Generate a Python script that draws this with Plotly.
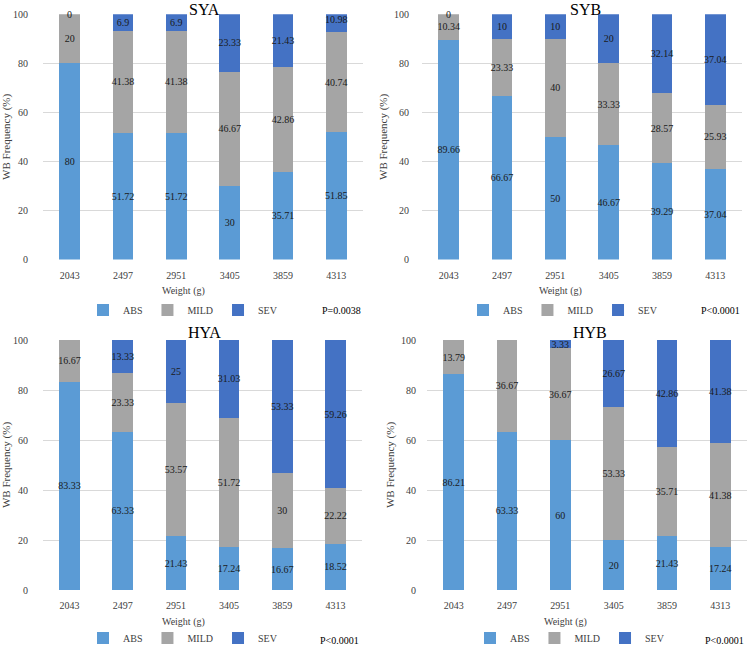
import plotly.graph_objects as go

# ---------------- data ----------------
weights = ["2043", "2497", "2951", "3405", "3859", "4313"]
series_names = ["ABS", "MILD", "SEV"]
y_ticks = [0, 20, 40, 60, 80, 100]

sya_abs = [80, 51.72, 51.72, 30, 35.71, 51.85]
sya_mild = [20, 41.38, 41.38, 46.67, 42.86, 40.74]
sya_sev = [0, 6.9, 6.9, 23.33, 21.43, 10.98]

syb_abs = [89.66, 66.67, 50, 46.67, 39.29, 37.04]
syb_mild = [10.34, 23.33, 40, 33.33, 28.57, 25.93]
syb_sev = [0, 10, 10, 20, 32.14, 37.04]

hya_abs = [83.33, 63.33, 21.43, 17.24, 16.67, 18.52]
hya_mild = [16.67, 23.33, 53.57, 51.72, 30, 22.22]
hya_sev = [0, 13.33, 25, 31.03, 53.33, 59.26]

hyb_abs = [86.21, 63.33, 60, 20, 21.43, 17.24]
hyb_mild = [13.79, 36.67, 36.67, 53.33, 35.71, 41.38]
hyb_sev = [0, 0, 3.33, 26.67, 42.86, 41.38]

panel_titles = ["SYA", "SYB", "HYA", "HYB"]
p_values = ["P=0.0038", "P<0.0001", "P<0.0001", "P<0.0001"]
show_zero_labels = [True, True, False, False]

# ---------------- style ----------------
colors = {"ABS": "#5B9BD5", "MILD": "#A5A5A5", "SEV": "#4472C4"}
FONT = "'Liberation Serif', 'Times New Roman', serif"
W, H = 750, 646

def px_x(v):
    return v / W

def px_y(v):
    return 1 - v / H

# panel pixel boxes: (x0, x1, ytop, ybottom)
boxes = [
    (43, 363, 14.3, 259.5),
    (422, 742, 14.3, 259.5),
    (43, 362, 340, 590),
    (427, 747, 340, 590),
]
legend_pos = [(183, 310), (563, 310), (183, 638), (570, 638)]
xtitle_pos = [(183, 291), (560, 291), (183, 622), (565, 622)]
ptext_pos = [(341, 310), (720, 310), (339, 640), (724, 640)]
title_pos = [(204, 10), (585, 10), (204, 332), (590, 332)]
ytick_len = [12, 10, 12, 8]

data_sets = [
    (sya_abs, sya_mild, sya_sev),
    (syb_abs, syb_mild, syb_sev),
    (hya_abs, hya_mild, hya_sev),
    (hyb_abs, hyb_mild, hyb_sev),
]

LABEL_FONT = dict(family=FONT, size=10, color="#1a1a1a")

fig = go.Figure()
annotations = []

for i, (vals, box) in enumerate(zip(data_sets, boxes)):
    n = i + 1
    xa = "x" if n == 1 else f"x{n}"
    ya = "y" if n == 1 else f"y{n}"
    leg = "legend" if n == 1 else f"legend{n}"
    base = [0.0] * len(weights)
    for name, v in zip(series_names, vals):
        txt = [f"{t:g}" if t != 0 else "" for t in v]
        fig.add_trace(go.Bar(
            x=weights, y=v, name=name, xaxis=xa, yaxis=ya, legend=leg,
            marker=dict(color=colors[name], line=dict(width=0)),
            text=txt, textposition="inside", insidetextanchor="middle",
            textangle=0, constraintext="none",
            textfont=LABEL_FONT,
            hoverinfo="x+y+name",
        ))
        # zero-height segments still carry a "0" label in some panels
        if show_zero_labels[i]:
            for j, (b, t) in enumerate(zip(base, v)):
                if t == 0:
                    annotations.append(dict(
                        text="0", xref=xa, yref=ya, x=j, y=b + t / 2,
                        showarrow=False, xanchor="center", yanchor="middle",
                        font=LABEL_FONT,
                    ))
        base = [b + t for b, t in zip(base, v)]

    x0, x1, yt, yb = box
    xkey = "xaxis" if n == 1 else f"xaxis{n}"
    ykey = "yaxis" if n == 1 else f"yaxis{n}"
    fig.update_layout(**{
        xkey: dict(
            domain=[px_x(x0), px_x(x1)], anchor=ya, automargin=False,
            type="category", range=[-0.5, len(weights) - 0.5],
            showgrid=False, showline=False, zeroline=False,
            ticks="outside", ticklen=6, tickcolor="rgba(0,0,0,0)",
            tickfont=dict(family=FONT, size=10, color="#404040"),
        ),
        ykey: dict(
            domain=[px_y(yb), px_y(yt)], anchor=xa, automargin=False,
            range=[0, 100], tickvals=y_ticks,
            showgrid=True, gridcolor="#D9D9D9", gridwidth=1,
            zeroline=False, showline=False,
            ticks="outside", ticklen=ytick_len[i], tickcolor="rgba(0,0,0,0)",
            tickfont=dict(family=FONT, size=10, color="#404040"),
            title=dict(text="WB Frequency (%)", standoff=4,
                       font=dict(family=FONT, size=11, color="#404040")),
        ),
        leg: dict(
            orientation="h", x=px_x(legend_pos[i][0]), y=px_y(legend_pos[i][1]),
            xanchor="center", yanchor="middle", bgcolor="rgba(0,0,0,0)",
            font=dict(family=FONT, size=10, color="#404040"),
            itemwidth=30, traceorder="normal",
        ),
    })

    annotations.append(dict(
        text=panel_titles[i], xref="paper", yref="paper",
        x=px_x(title_pos[i][0]), y=px_y(title_pos[i][1]),
        xanchor="center", yanchor="middle", showarrow=False,
        font=dict(family=FONT, size=16, color="#000000"),
    ))
    annotations.append(dict(
        text="Weight (g)", xref="paper", yref="paper",
        x=px_x(xtitle_pos[i][0]), y=px_y(xtitle_pos[i][1]),
        xanchor="center", yanchor="middle", showarrow=False,
        font=dict(family=FONT, size=10, color="#404040"),
    ))
    annotations.append(dict(
        text=p_values[i], xref="paper", yref="paper",
        x=px_x(ptext_pos[i][0]), y=px_y(ptext_pos[i][1]),
        xanchor="center", yanchor="middle", showarrow=False,
        font=dict(family=FONT, size=10, color="#000000"),
    ))

fig.update_layout(
    width=W, height=H, autosize=False,
    margin=dict(l=0, r=0, t=0, b=0, pad=0, autoexpand=False),
    barmode="stack", bargap=0.61,
    plot_bgcolor="white", paper_bgcolor="white",
    annotations=annotations,
    font=dict(family=FONT),
)

fig.write_html(
    "out.html",
    config={"displayModeBar": False},
    post_script="document.body.style.margin='0px';document.body.style.overflow='hidden';",
)
